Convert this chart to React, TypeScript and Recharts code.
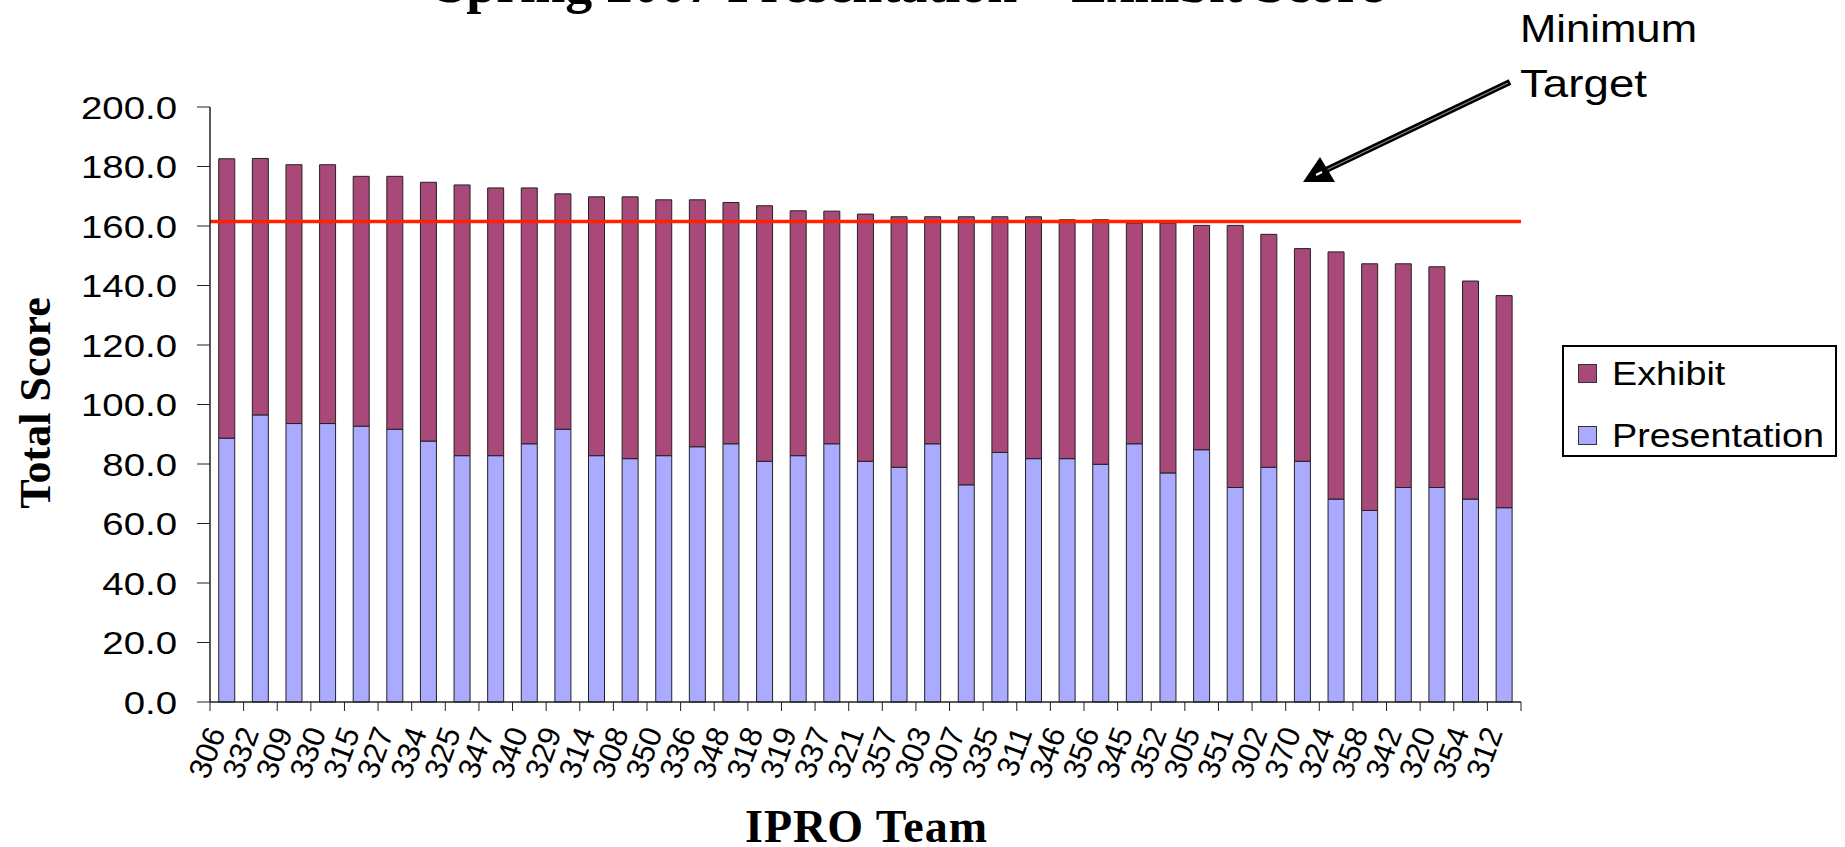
import React from "react";
import { BarChart, Bar, XAxis, YAxis, ReferenceLine, Legend } from "recharts";

// IPRO teams, sorted by total score (as in the original sheet)
const teams = [
  "306", "332", "309", "330", "315", "327", "334", "325", "347", "340",
  "329", "314", "308", "350", "336", "348", "318", "319", "337", "321",
  "357", "303", "307", "335", "311", "346", "356", "345", "352", "305",
  "351", "302", "370", "324", "358", "342", "320", "354", "312",
];

const presentation = [
  88.7, 96.5, 93.6, 93.6, 92.7, 91.7, 87.7, 82.8, 82.8, 86.8,
  91.7, 82.8, 81.8, 82.8, 85.8, 86.8, 80.9, 82.8, 86.8, 80.9,
  78.9, 86.8, 73.0, 83.9, 81.8, 81.8, 79.9, 86.8, 77.0, 84.8,
  72.1, 78.9, 80.9, 68.2, 64.4, 72.1, 72.1, 68.2, 65.3,
];

const exhibit = [
  93.9, 86.2, 87.0, 87.0, 84.0, 85.0, 87.0, 91.0, 90.0, 86.0,
  79.1, 87.0, 88.0, 86.0, 83.0, 81.1, 85.9, 82.3, 78.2, 83.1,
  84.2, 76.3, 90.1, 79.2, 81.3, 80.3, 82.2, 74.2, 84.0, 75.4,
  88.1, 78.3, 71.5, 83.1, 82.9, 75.2, 74.2, 73.3, 71.3,
];

const yTicks = [0, 20, 40, 60, 80, 100, 120, 140, 160, 180, 200];
const minimumTarget = 161.5;

const data = teams.map((team, i) => ({
  team,
  Presentation: presentation[i],
  Exhibit: exhibit[i],
}));

const SANS = '"Liberation Sans", Arial, sans-serif';
const SERIF = '"Liberation Serif", "Times New Roman", serif';
const EXHIBIT = "#A8497A";
const PRESENTATION = "#AAAAFF";
const AXIS = "#222";

const legendItems = [
  { name: "Exhibit", color: EXHIBIT },
  { name: "Presentation", color: PRESENTATION },
];

function YTick(props: any) {
  const { x, y, payload } = props;
  return (
    <g transform={`translate(${x},${y})`}>
      <text transform="scale(1.2,1)" textAnchor="end" dy="0.36em" fontFamily={SANS} fontSize={32} fill="#000">
        {Number(payload.value).toFixed(1)}
      </text>
    </g>
  );
}

function XTick(props: any) {
  const { x, y, payload, index } = props;
  const half = payload.offset || 16.8;
  return (
    <g>
      <line x1={x - half} x2={x - half} y1={y} y2={y + 9} stroke={AXIS} />
      {index === teams.length - 1 && <line x1={x + half} x2={x + half} y1={y} y2={y + 9} stroke={AXIS} />}
      <text transform={`translate(${x - 1},${y + 30}) rotate(-70)`} textAnchor="end" fontFamily={SANS} fontSize={31} fill="#000">
        {payload.value}
      </text>
    </g>
  );
}

function LegendBox() {
  return (
    <div style={{ position: "relative", boxSizing: "border-box", width: 275, height: 112, border: "2px solid #000", background: "#fff", fontFamily: SANS }}>
      {legendItems.map((item, i) => (
        <div key={item.name} style={{ position: "absolute", left: 14, top: 6 + i * 62, height: 40, display: "flex", alignItems: "center" }}>
          <span style={{ display: "inline-block", boxSizing: "border-box", width: 19, height: 19, background: item.color, border: "1.5px solid #333", marginRight: 15 }} />
          <span style={{ fontSize: 34, display: "inline-block", transform: "scaleX(1.11)", transformOrigin: "left center", color: "#000", whiteSpace: "nowrap" }}>{item.name}</span>
        </div>
      ))}
    </div>
  );
}

export default function App() {
  return (
    <div style={{ position: "absolute", left: 0, top: 0, width: 1845, height: 847, background: "#fff", overflow: "hidden" }}>
      <BarChart
        width={1845}
        height={847}
        data={data}
        margin={{ top: 107, right: 324, bottom: 0, left: 0 }}
        barCategoryGap="26%"
      >
        <XAxis
          dataKey="team"
          interval={0}
          height={145}
          tickSize={0}
          tickMargin={0}
          tickLine={false}
          axisLine={{ stroke: AXIS, strokeWidth: 1.5 }}
          tick={<XTick />}
        />
        <YAxis
          width={210}
          domain={[0, 200]}
          ticks={yTicks}
          interval={0}
          tickSize={13}
          tickMargin={20}
          tickLine={{ stroke: AXIS }}
          axisLine={{ stroke: AXIS, strokeWidth: 1.5 }}
          tick={<YTick />}
        />
        <Legend
          layout="vertical"
          align="center"
          verticalAlign="middle"
          wrapperStyle={{ left: 1562, top: 345, width: 275, height: 112 }}
          content={<LegendBox />}
        />
        <Bar dataKey="Presentation" stackId="score" fill={PRESENTATION} stroke={AXIS} strokeWidth={1} isAnimationActive={false} />
        <Bar dataKey="Exhibit" stackId="score" fill={EXHIBIT} stroke={AXIS} strokeWidth={1} isAnimationActive={false} />
        <ReferenceLine y={minimumTarget} stroke="#FF2200" strokeWidth={3.5} />
      </BarChart>

      <svg width={1845} height={847} style={{ position: "absolute", left: 0, top: 0, pointerEvents: "none" }}>
        <text x={910} y={2} textAnchor="middle" fontFamily={SERIF} fontWeight="bold" fontSize={54} fill="#000">
          Spring 2007 Presentation – Exhibit Score
        </text>
        <text x={50} y={403} transform="rotate(-90 50 403)" textAnchor="middle" fontFamily={SERIF} fontWeight="bold" fontSize={44} fill="#000">
          Total Score
        </text>
        <text x={866} y={842} textAnchor="middle" fontFamily={SERIF} fontWeight="bold" fontSize={46} textLength={242} lengthAdjust="spacing" fill="#000">
          IPRO Team
        </text>
        <text x={1520} y={42} fontFamily={SANS} fontSize={39} textLength={177} lengthAdjust="spacingAndGlyphs" fill="#000">
          Minimum
        </text>
        <text x={1520} y={97} fontFamily={SANS} fontSize={39} textLength={127} lengthAdjust="spacingAndGlyphs" fill="#000">
          Target
        </text>
        <line x1={1510} y1={82} x2={1326} y2={170} stroke="#000" strokeWidth={6} />
        <line x1={1508} y1={83} x2={1318} y2={174} stroke="#888" strokeWidth={1.2} />
        <polygon points="1303,182 1320,157 1335,182" fill="#000" />
        <line x1={1316} y1={175} x2={1322} y2={172} stroke="#fff" strokeWidth={2} />
      </svg>
    </div>
  );
}
